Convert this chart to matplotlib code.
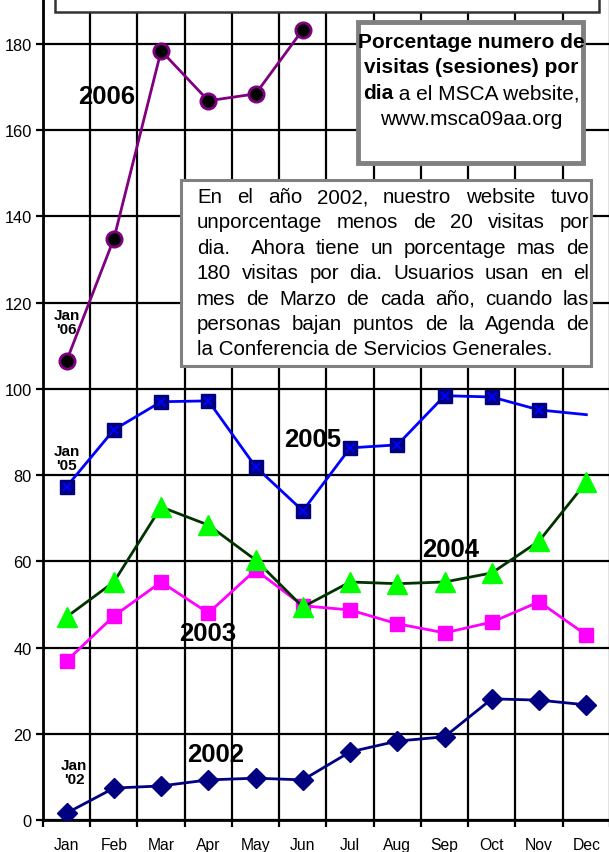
import matplotlib
matplotlib.use("Agg")
import matplotlib.pyplot as plt
from matplotlib.patches import Rectangle

plt.rcParams['font.family'] = ['Liberation Sans', 'DejaVu Sans']

months = ["Jan", "Feb", "Mar", "Apr", "May", "Jun", "Jul", "Aug", "Sep", "Oct", "Nov", "Dec"]
y2002 = [1.6, 7.4, 7.9, 9.3, 9.7, 9.3, 15.8, 18.3, 19.3, 28.1, 27.8, 26.7]
y2003 = [36.9, 47.3, 55.2, 48.0, 58.0, 49.7, 48.7, 45.5, 43.4, 45.9, 50.6, 42.9]
y2004 = [47.1, 55.2, 72.6, 68.4, 60.3, 49.4, 55.2, 54.8, 55.2, 57.3, 64.7, 78.4]
y2005 = [77.3, 90.5, 97.0, 97.2, 81.9, 71.7, 86.3, 87.0, 98.4, 98.1, 95.1, 94.0]
y2006 = [106.5, 134.8, 178.4, 166.8, 168.4, 183.3]
yticks = [0, 20, 40, 60, 80, 100, 120, 140, 160, 180]

W, H = 609, 853
fig = plt.figure(figsize=(W / 100, H / 100), dpi=100)
ax = fig.add_axes([43 / W, 32 / H, 567 / W, 821 / H])
x = list(range(12))

ax.set_xlim(-0.5, 11.5)
ax.set_ylim(0, 190.4)
ax.set_xticks(x)
ax.set_xticklabels(months, fontsize=11.3)
ax.set_xticks([i - 0.5 for i in range(13)], minor=True)
ax.set_yticks(yticks)
ax.set_yticklabels([str(v) for v in yticks], fontsize=11.8)
ax.tick_params(axis='x', which='major', length=0, pad=12)
ax.tick_params(axis='x', which='minor', length=5, width=1.6, direction='out')
ax.tick_params(axis='y', length=5, width=1.6, direction='out', pad=3)
ax.grid(True, axis='x', which='minor', color='black', lw=1.6)
ax.grid(True, axis='y', which='major', color='black', lw=1.6)
ax.set_axisbelow(True)
for s in ['top', 'right']:
    ax.spines[s].set_visible(False)
for s in ['left', 'bottom']:
    ax.spines[s].set_linewidth(2)

ax.plot(x, y2002, color='#000080', lw=2, marker='D', ms=10, mfc='#000080', mec='#000080', zorder=3)
ax.plot(x, y2003, color='#FF00FF', lw=2, marker='s', ms=10, mfc='#FF00FF', mec='#FF00FF', zorder=4)
ax.plot(x, y2004, color='#003300', lw=2, zorder=5)
ax.plot(x, y2004, ls='none', marker='^', ms=15, mfc='#00FF00', mec='#00FF00', zorder=5)
ax.plot(x, y2005, color='#0000FF', lw=2, zorder=6)
ax.plot(x[:11], y2005[:11], ls='none', marker='s', ms=10, mfc='#000080', mec='#000080', zorder=6)
ax.plot(x[:11], y2005[:11], ls='none', marker='x', ms=6, mew=1.5, mec='#0000FF', zorder=6)
ax.plot(x[:6], y2006, color='#800080', lw=2, marker='o', ms=11, mfc='black', mec='#800080', mew=2, zorder=7)

lab = dict(fontsize=18.5, fontweight='bold', ha='center', va='center', zorder=8)
ax.text(0.85, 168, "2006", **lab)
ax.text(5.21, 88.4, "2005", **lab)
ax.text(8.13, 62.9, "2004", **lab)
ax.text(2.99, 43.4, "2003", **lab)
ax.text(3.16, 15.3, "2002", **lab)
small = dict(fontsize=11, fontweight='bold', ha='center', va='center', linespacing=1.05, zorder=8)
ax.text(0.0, 115.5, "Jan\n'06", **small)
ax.text(0.0, 84.0, "Jan\n'05", **small)
ax.text(0.16, 11.1, "Jan\n'02", **small)


def fx(px):
    return px / W


def fy(py):
    return 1 - py / H


# top (cut-off) box
fig.patches.append(Rectangle((fx(55), fy(13)), fx(599) - fx(55), 0.05, transform=fig.transFigure,
                             facecolor='white', edgecolor='#333333', lw=1.8, zorder=1))
# title box
fig.patches.append(Rectangle((fx(358), fy(164)), fx(583) - fx(358), fy(23) - fy(164), transform=fig.transFigure,
                             facecolor='white', edgecolor='#808080', lw=3.5, zorder=1))
# body box
fig.patches.append(Rectangle((fx(181), fy(367)), fx(591) - fx(181), fy(181) - fy(367), transform=fig.transFigure,
                             facecolor='white', edgecolor='#808080', lw=2.2, zorder=1))

fig.canvas.draw()
r = fig.canvas.get_renderer()


def width(t):
    return t.get_window_extent(renderer=r).width


tfs = 15
t1 = fig.text(fx(471), fy(48), "Porcentage numero de", fontsize=tfs, fontweight='bold', ha='center', va='baseline')
t2 = fig.text(fx(471), fy(73), "visitas (sesiones) por", fontsize=tfs, fontweight='bold', ha='center', va='baseline')
ta = fig.text(0, fy(99), "dia", fontsize=tfs, fontweight='bold', ha='left', va='baseline')
tb = fig.text(0, fy(99), "\u00a0a el MSCA website,", fontsize=tfs, ha='left', va='baseline')
wa, wb = width(ta), width(tb)
x0 = 471 - (wa + wb) / 2
ta.set_x(fx(x0))
tb.set_x(fx(x0 + wa))
t4 = fig.text(fx(471), fy(125), "www.msca09aa.org", fontsize=tfs, ha='center', va='baseline')

body = ["En el año 2002, nuestro website tuvo",
        "unporcentage menos de 20 visitas por",
        "dia.  Ahora tiene un porcentage mas de",
        "180 visitas por dia. Usuarios usan en el",
        "mes de Marzo de cada año, cuando las",
        "personas bajan puntos de la Agenda de",
        "la Conferencia de Servicios Generales."]
bfs = 14.8
left, right = 197, 589
for i, line in enumerate(body):
    yb = fy(203 + i * 25.4)
    if i == len(body) - 1:
        fig.text(fx(left), yb, line, fontsize=bfs, ha='left', va='baseline')
        continue
    tokens = line.split(' ')
    ts = [(fig.text(0, yb, w, fontsize=bfs, ha='left', va='baseline') if w else None) for w in tokens]
    ws = [(width(t) if t is not None else 0) for t in ts]
    gap = (right - left - sum(ws)) / (len(tokens) - 1)
    cx = left
    for t, w in zip(ts, ws):
        if t is not None:
            t.set_x(fx(cx))
        cx += w + gap

fig.savefig("out.png", dpi=100)
